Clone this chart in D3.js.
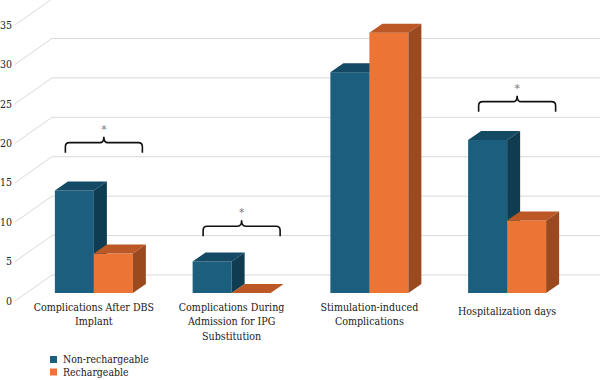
<!DOCTYPE html>
<html>
<head>
<meta charset="utf-8">
<script src="https://cdn.jsdelivr.net/npm/d3@7/dist/d3.min.js"></script>
<style>
  html, body { margin: 0; padding: 0; background: #fff; }
  svg { display: block; }
  text { font-stretch: condensed; }
</style>
</head>
<body>
<svg id="chart" width="600" height="380"></svg>
<script>
// ---- data ----
const categories = [
  ["Complications After DBS", "Implant"],
  ["Complications During", "Admission for IPG", "Substitution"],
  ["Stimulation-induced", "Complications"],
  ["Hospitalization days"]
];
const seriesNames = ["Non-rechargeable", "Rechargeable"];
const nonRechargeable = [13, 4, 28, 19.4];
const rechargeable = [5, 0, 33, 9.2];
const yTicks = [0, 5, 10, 15, 20, 25, 30, 35];
// significance brackets: category index and bracket level (value units)
const sigCategory = [0, 1, 3];
const sigLevel = [17.8, 7.2, 23];

// ---- layout ----
const FONT = "DejaVu Serif";
const svg = d3.select("#chart");
const colors = {
  front: ["#1b5e7d", "#ec7434"],
  top: ["#144a63", "#bb5826"],
  side: ["#0f3c51", "#9b4a1f"]
};
const series = [nonRechargeable, rechargeable];

const yFront = d3.scaleLinear().domain([0, 35]).range([301, 25]);
const wallShift = { dx: 37, dy: -26 };
const barShift = { dx: 11.5, dy: -8 };
const barDepth = { dx: 13, dy: -9 };

const x = d3.scaleBand().domain(d3.range(categories.length)).range([25, 576]);
const barW = 39;
const inner = d3.scaleBand().domain(d3.range(series.length)).range([-barW, barW]);

const grid = svg.append("g");
yTicks.forEach(t => {
  const yf = yFront(t), yb = yf + wallShift.dy;
  grid.append("line").attr("x1", 15).attr("y1", yf).attr("x2", 15 + wallShift.dx).attr("y2", yb)
    .attr("stroke", "#d9d9d9").attr("stroke-width", 1);
  grid.append("line").attr("x1", 15 + wallShift.dx).attr("y1", yb).attr("x2", 600).attr("y2", yb)
    .attr("stroke", "#d9d9d9").attr("stroke-width", 1);
  svg.append("text").attr("x", 12).attr("y", yf).attr("dy", "0.35em")
    .attr("text-anchor", "end").attr("font-family", FONT).attr("font-size", 10.5)
    .attr("fill", "#222").text(t);
});

const bars = svg.append("g");
categories.forEach((c, ci) => {
  series.forEach((s, si) => {
    const v = s[ci];
    const x0 = x(ci) + x.bandwidth() / 2 + inner(si);
    const yb = yFront(0) + barShift.dy;
    const yt = yFront(v) + barShift.dy;
    const w = inner.bandwidth();
    const dx = barDepth.dx, dy = barDepth.dy;
    const g = bars.append("g");
    g.append("rect").attr("x", x0).attr("y", yt).attr("width", w).attr("height", yb - yt)
      .attr("fill", colors.front[si]);
    g.append("polygon").attr("points", [[x0, yt], [x0 + dx, yt + dy], [x0 + w + dx, yt + dy], [x0 + w, yt]].join(" "))
      .attr("fill", colors.top[si]);
    g.append("polygon").attr("points", [[x0 + w, yt], [x0 + w + dx, yt + dy], [x0 + w + dx, yb + dy], [x0 + w, yb]].join(" "))
      .attr("fill", colors.side[si]);
  });
});

sigCategory.forEach((ci, i) => {
  const cx = x(ci) + x.bandwidth() / 2 + 10;
  const yb = yFront(sigLevel[i]) + barShift.dy;
  const half = 38.5, h = 10, r = 4;
  const yh = yb - h;
  const p = d3.path();
  p.moveTo(cx - half, yb);
  p.lineTo(cx - half, yh + r);
  p.quadraticCurveTo(cx - half, yh, cx - half + r, yh);
  p.lineTo(cx - r, yh);
  p.quadraticCurveTo(cx, yh, cx, yh - 6);
  p.quadraticCurveTo(cx, yh, cx + r, yh);
  p.lineTo(cx + half - r, yh);
  p.quadraticCurveTo(cx + half, yh, cx + half, yh + r);
  p.lineTo(cx + half, yb);
  svg.append("path").attr("d", p.toString()).attr("fill", "none")
    .attr("stroke", "#111").attr("stroke-width", 1.6);
  svg.append("text").attr("x", cx).attr("y", yh - 10).attr("text-anchor", "middle")
    .attr("font-family", FONT).attr("font-size", 11).attr("fill", "#777").text("*");
});

categories.forEach((lines, ci) => {
  const cx = x(ci) + x.bandwidth() / 2;
  const first = lines.length === 1 ? 311.7 : 307;
  const t = svg.append("text").attr("text-anchor", "middle")
    .attr("font-family", FONT).attr("font-size", 10.6).attr("fill", "#1a1a1a");
  lines.forEach((ln, li) => {
    t.append("tspan").attr("x", cx).attr("y", first + li * 14.5).attr("dy", "0.35em").text(ln);
  });
});

const legend = svg.append("g");
seriesNames.forEach((n, i) => {
  const ly = 359.5 + i * 12.5;
  legend.append("rect").attr("x", 50).attr("y", ly - 3.5).attr("width", 7).attr("height", 7)
    .attr("fill", colors.front[i]);
  legend.append("text").attr("x", 63).attr("y", ly).attr("dy", "0.35em")
    .attr("font-family", FONT).attr("font-size", 10.4).attr("fill", "#1a1a1a").text(n);
});
</script>
</body>
</html>
